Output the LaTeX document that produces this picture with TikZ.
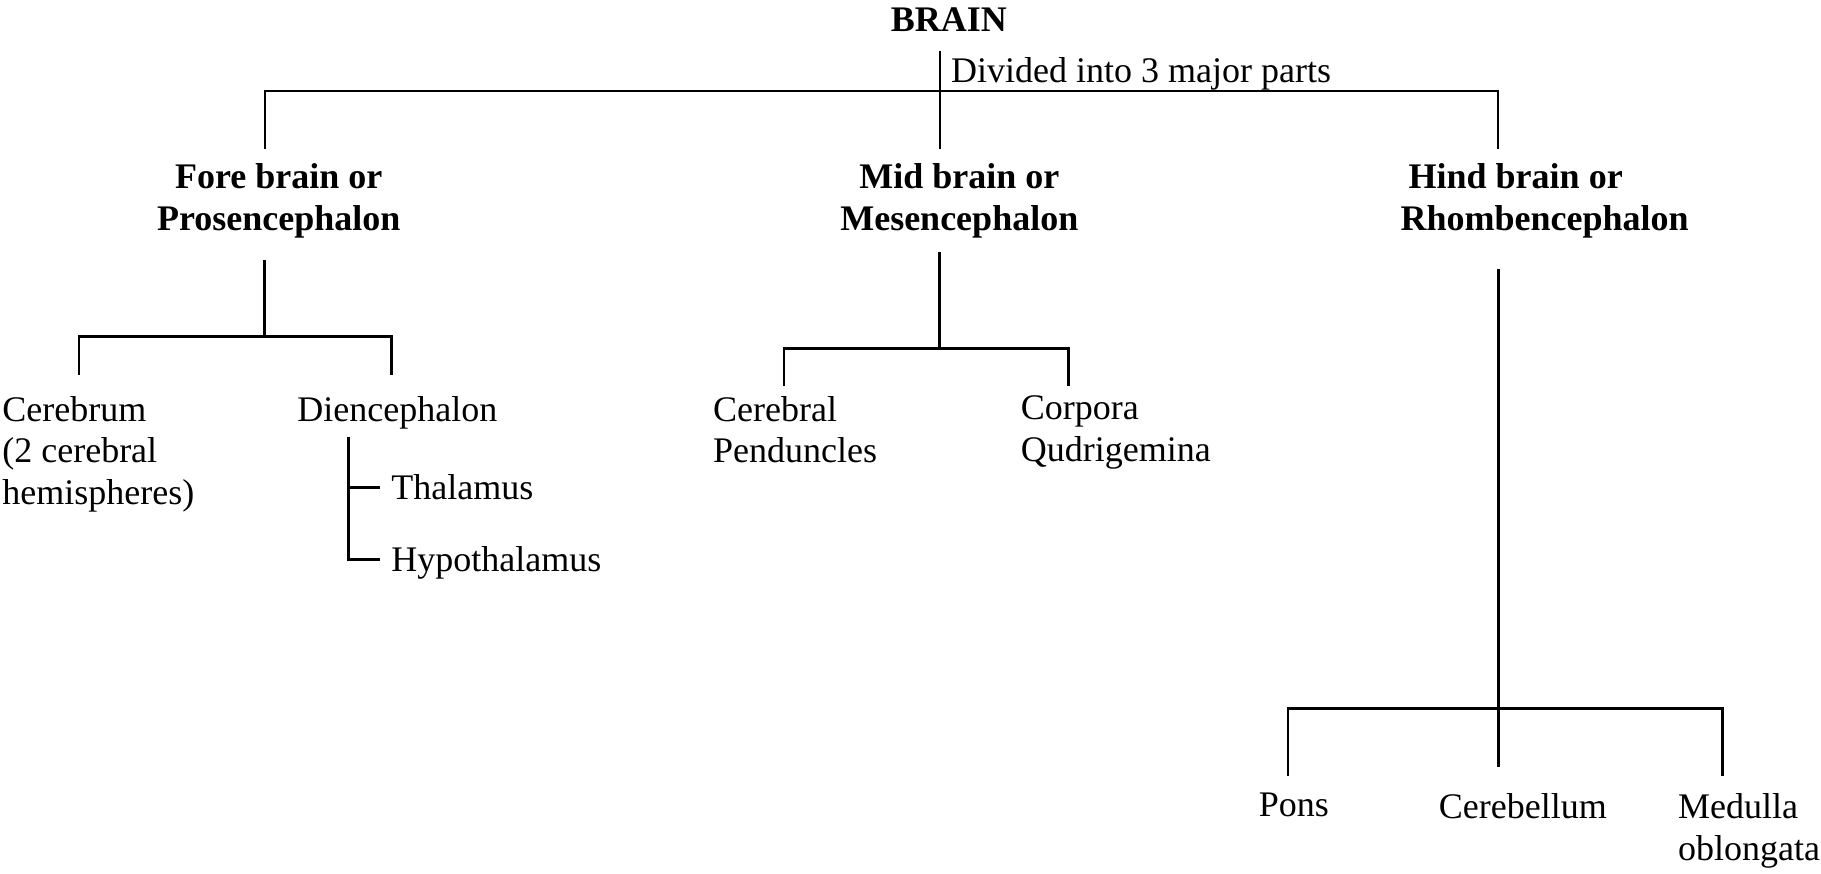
\documentclass[tikz,border=0pt]{standalone}
\usepackage{fontspec}
\setmainfont{Liberation Serif}
\begin{document}
\begin{tikzpicture}[x=0.5pt,y=-0.5pt,
  lbl/.style={inner sep=0pt,outer sep=0pt,font=\fontsize{15.5}{18}\selectfont},
  hdr/.style={lbl,font=\fontsize{15.5}{18}\selectfont\bfseries,align=center},
  conn/.style={line width=1.2pt,line cap=butt,line join=miter},
  thinconn/.style={line width=0.9pt}]
\useasboundingbox (0,0) rectangle (1568,752);

% texts
\node[lbl,font=\fontsize{15.5}{18}\selectfont\bfseries] (brain) at (817,17) {BRAIN};
\node[lbl,anchor=base west] (divided) at (819,71) {Divided into 3 major parts};
\node[hdr,anchor=north] (fore) at (240,141) {Fore brain or\\Prosencephalon};
\node[hdr,anchor=north] (mid) at (826,141) {Mid brain or\\Mesencephalon};
\node[hdr,anchor=north,align=left] (hind) at (1330,141) {\hspace*{3.5pt}Hind brain or\\Rhombencephalon};

\node[lbl,anchor=north west,align=left] (cerebrum) at (2,341) {Cerebrum\\(2 cerebral\\hemispheres)};
\node[lbl,anchor=north west] (dien) at (256,341) {Diencephalon};
\node[lbl,anchor=north west] (thal) at (337,409) {Thalamus};
\node[lbl,anchor=north west] (hypo) at (337,471) {Hypothalamus};
\node[lbl,anchor=north west,align=left] (cped) at (614,341) {Cerebral\\Penduncles};
\node[lbl,anchor=north west,align=left] (corp) at (879,341) {Corpora\\Qudrigemina};
\node[lbl,anchor=north west] (pons) at (1084,683) {Pons};
\node[lbl,anchor=north west] (cereb) at (1239,683) {Cerebellum};
\node[lbl,anchor=north west,align=left] (medulla) at (1445,683) {Medulla\\oblongata};

% junction coordinates
\coordinate (bTop) at (809,44);
\coordinate (mTop) at (809,128);
\coordinate (hL) at (228,78);
\coordinate (hR) at (1290,78);
\coordinate (fTop) at (228,128);
\coordinate (rTop) at (1290,128);

\coordinate (fS) at (228,224);
\coordinate (fJ) at (228,290);
\coordinate (fL) at (68,290);
\coordinate (fR) at (337,290);
\coordinate (fLd) at (68,323);
\coordinate (fRd) at (337,323);

\coordinate (dS) at (300,376);
\coordinate (dT) at (300,420);
\coordinate (dH) at (300,482);
\coordinate (dTe) at (327,420);
\coordinate (dHe) at (327,482);

\coordinate (mS) at (809,217);
\coordinate (mJ) at (809,300);
\coordinate (mL) at (675,300);
\coordinate (mR) at (920,300);
\coordinate (mLd) at (675,332);
\coordinate (mRd) at (920,332);

\coordinate (hS) at (1290,232);
\coordinate (hE) at (1290,660);
\coordinate (hhL) at (1109,610);
\coordinate (hhR) at (1483,610);
\coordinate (hLd) at (1109,668);
\coordinate (hRd) at (1483,668);

% connectors
\draw[thinconn] (bTop) -- (mTop);
\draw[thinconn] (fTop) -- (hL) -- (hR) -- (rTop);

\draw[conn] (fS) -- (fJ);
\draw[conn] (fLd) -- (fL) -- (fR) -- (fRd);
\draw[conn] (dS) -- (dH) -- (dHe);
\draw[conn] (dT) -- (dTe);

\draw[conn] (mS) -- (mJ);
\draw[conn] (mLd) -- (mL) -- (mR) -- (mRd);

\draw[conn] (hS) -- (hE);
\draw[conn] (hLd) -- (hhL) -- (hhR) -- (hRd);
\end{tikzpicture}
\end{document}
